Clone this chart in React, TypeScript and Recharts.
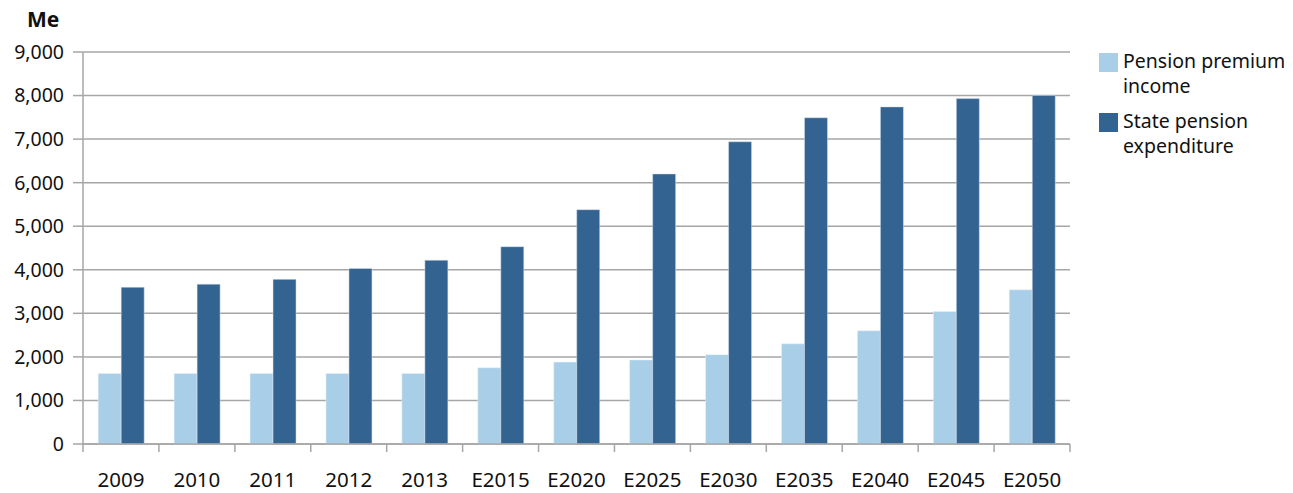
import { Bar, BarChart, CartesianGrid, XAxis, YAxis } from 'recharts'

const categories = ['2009', '2010', '2011', '2012', '2013', 'E2015', 'E2020', 'E2025', 'E2030', 'E2035', 'E2040', 'E2045', 'E2050']
const premiumIncome = [1620, 1620, 1620, 1620, 1620, 1750, 1880, 1930, 2050, 2300, 2600, 3040, 3540]
const stateExpenditure = [3600, 3670, 3780, 4030, 4220, 4530, 5380, 6200, 6940, 7490, 7740, 7930, 8000]
const yTicks = [0, 1000, 2000, 3000, 4000, 5000, 6000, 7000, 8000, 9000]

const lightBlue = '#A8CEE8'
const darkBlue = '#336391'
const gridColor = '#A6A6A6'
const font = '"Noto Sans", "Open Sans", sans-serif'

const data = categories.map((name, i) => ({
  name,
  income: premiumIncome[i],
  expenditure: stateExpenditure[i]
}))

const chartWidth = 1293
const chartHeight = 493
const margin = { top: 52, right: 223, left: 0, bottom: 0 }
const yAxisWidth = 83
const xAxisHeight = 49
const band = (chartWidth - margin.right - yAxisWidth) / categories.length

function XTick(props: any) {
  const { x, y, payload, index } = props
  const isLast = index === categories.length - 1
  return (
    <g>
      <line x1={x - band / 2} x2={x - band / 2} y1={y} y2={y + 8} stroke={gridColor} strokeWidth={1.5} />
      {isLast && <line x1={x + band / 2} x2={x + band / 2} y1={y} y2={y + 8} stroke={gridColor} strokeWidth={1.5} />}
      <text x={x} y={y + 43} textAnchor="middle" fontSize={20.5} fill="#111" fontFamily={font}>
        {payload.value}
      </text>
    </g>
  )
}

function LegendBox() {
  const items = [
    { color: lightBlue, lines: ['Pension premium', 'income'] },
    { color: darkBlue, lines: ['State pension', 'expenditure'] }
  ]
  return (
    <div style={{ position: 'absolute', left: 1099, top: 52, fontFamily: font, fontSize: 19.5, color: '#111' }}>
      {items.map(item => (
        <div key={item.lines[0]} style={{ display: 'flex', alignItems: 'flex-start', marginBottom: 14 }}>
          <span style={{ width: 19, height: 19, background: item.color, marginTop: 1, marginRight: 5, flexShrink: 0 }} />
          <span style={{ lineHeight: '25px', marginTop: -4 }}>
            {item.lines[0]}
            <br />
            {item.lines[1]}
          </span>
        </div>
      ))}
    </div>
  )
}

export default function App() {
  return (
    <div style={{ position: 'absolute', left: 0, top: 0, width: chartWidth, height: chartHeight, background: '#fff' }}>
      <div style={{ position: 'absolute', left: 27, top: 5, fontFamily: font, fontWeight: 700, fontSize: 21, color: '#111' }}>
        Me
      </div>
      <LegendBox />
      <BarChart width={chartWidth} height={chartHeight} data={data} margin={margin} barCategoryGap="20%" barGap={0}>
        <CartesianGrid vertical={false} stroke={gridColor} strokeWidth={1.5} />
        <XAxis
          dataKey="name"
          height={xAxisHeight}
          axisLine={{ stroke: gridColor, strokeWidth: 1.5 }}
          tickLine={false}
          tickSize={0}
          tickMargin={0}
          interval={0}
          tick={<XTick />}
        />
        <YAxis
          width={yAxisWidth}
          domain={[0, 9000]}
          ticks={yTicks}
          interval={0}
          axisLine={{ stroke: gridColor, strokeWidth: 1.5 }}
          tickLine={{ stroke: gridColor, strokeWidth: 1.5 }}
          tickSize={10}
          tickMargin={9}
          tickFormatter={(v: number) => v.toLocaleString('en-US')}
          tick={{ fill: '#111', fontSize: 19.5, fontFamily: font }}
        />
        <Bar dataKey="income" name="Pension premium income" fill={lightBlue} stroke="#EAF3FA" strokeWidth={0.5} isAnimationActive={false} />
        <Bar dataKey="expenditure" name="State pension expenditure" fill={darkBlue} stroke="#D8E3EE" strokeWidth={0.5} isAnimationActive={false} />
      </BarChart>
    </div>
  )
}
